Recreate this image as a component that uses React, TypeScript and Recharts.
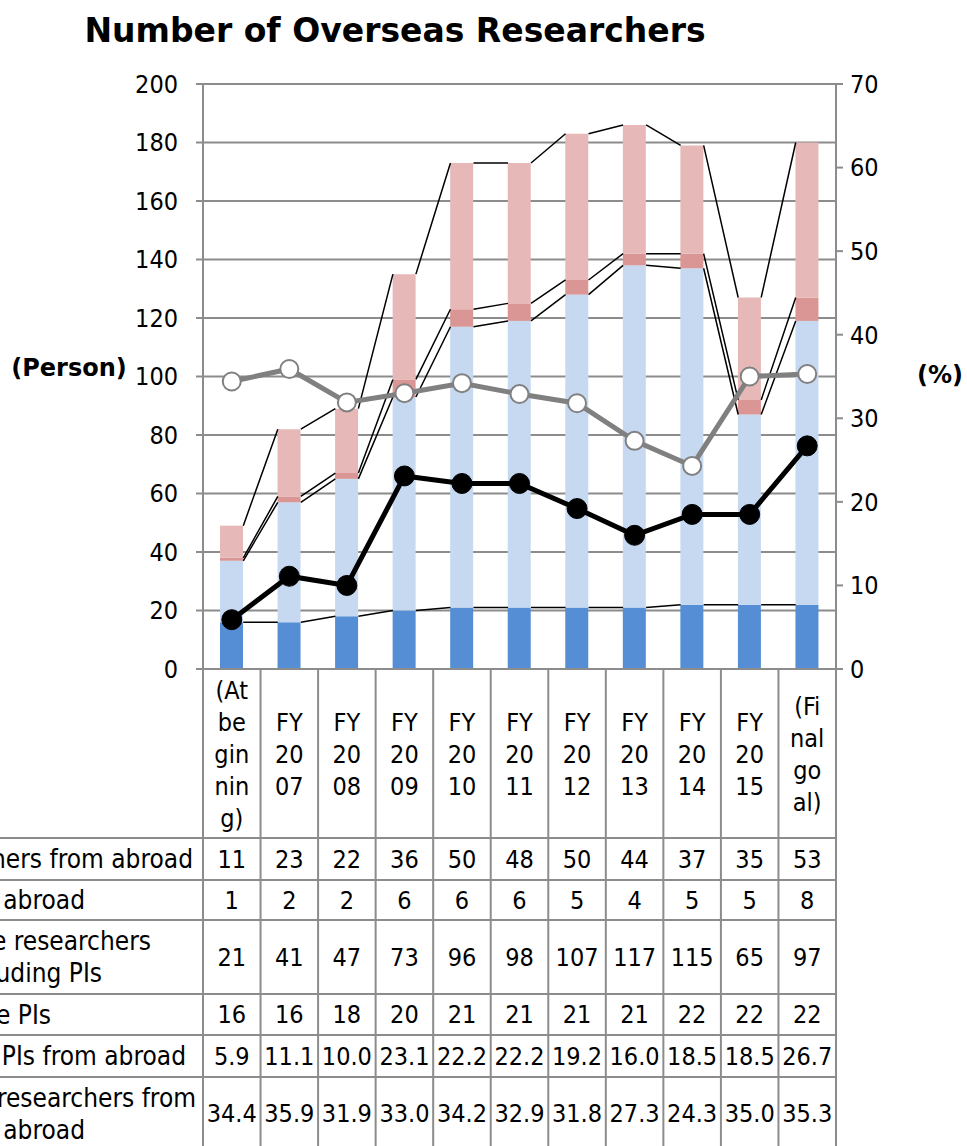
import React from "react";
import { ComposedChart, Bar, Line, XAxis, YAxis, CartesianGrid } from "recharts";

const FONT = '"DejaVu Sans Condensed", "DejaVu Sans", sans-serif';
const BOLD_FONT = '"DejaVu Sans", sans-serif';

const categories = [
  "(At beginning)", "FY2007", "FY2008", "FY2009", "FY2010", "FY2011",
  "FY2012", "FY2013", "FY2014", "FY2015", "(Final goal)",
];
const categoryLines = [
  ["(At", "be", "gin", "nin", "g)"],
  ["FY", "20", "07"], ["FY", "20", "08"], ["FY", "20", "09"], ["FY", "20", "10"],
  ["FY", "20", "11"], ["FY", "20", "12"], ["FY", "20", "13"], ["FY", "20", "14"],
  ["FY", "20", "15"],
  ["(Fi", "nal", "go", "al)"],
];

const researchersAbroad = [11, 23, 22, 36, 50, 48, 50, 44, 37, 35, 53];
const pisAbroad = [1, 2, 2, 6, 6, 6, 5, 4, 5, 5, 8];
const japaneseResearchers = [21, 41, 47, 73, 96, 98, 107, 117, 115, 65, 97];
const japanesePIs = [16, 16, 18, 20, 21, 21, 21, 21, 22, 22, 22];
const pctPIsAbroad = [5.9, 11.1, 10.0, 23.1, 22.2, 22.2, 19.2, 16.0, 18.5, 18.5, 26.7];
const pctResearchersAbroad = [34.4, 35.9, 31.9, 33.0, 34.2, 32.9, 31.8, 27.3, 24.3, 35.0, 35.3];

const leftTicks = [0, 20, 40, 60, 80, 100, 120, 140, 160, 180, 200];
const rightTicks = [0, 10, 20, 30, 40, 50, 60, 70];

// table rows below the plot (label lines, right end of each label line, values)
const tableRows = [
  { label: ["Researchers from abroad"], ends: [193], values: researchersAbroad.map(String) },
  { label: ["PIs from abroad"], ends: [85], values: pisAbroad.map(String) },
  { label: ["Japanese researchers", "excluding PIs"], ends: [151, 102], values: japaneseResearchers.map(String) },
  { label: ["Japanese PIs"], ends: [51], values: japanesePIs.map(String) },
  { label: ["Ratio of PIs from abroad"], ends: [186], values: pctPIsAbroad.map((v) => v.toFixed(1)) },
  { label: ["Ratio of researchers from", "abroad"], ends: [196, 85], values: pctResearchersAbroad.map((v) => v.toFixed(1)) },
];

// layout
const W = 967;
const H = 1146;
const PLOT_LEFT = 203;
const PLOT_RIGHT = 836;
const PLOT_TOP = 84;
const AXIS_Y = 669;
const STEP = (PLOT_RIGHT - PLOT_LEFT) / categories.length;
const HEADER_MID = 754;
const LINE_H = 32;
const ROW_EDGES = [838, 880, 920, 994, 1035, 1077, 1150];
const GRID = "#8c8c8c";
const HALF_BAR = 0.2;

const data = categories.map((name, i) => ({
  name,
  jpPI: japanesePIs[i],
  jpRes: japaneseResearchers[i],
  piAbroad: pisAbroad[i],
  resAbroad: researchersAbroad[i],
  pctPI: pctPIsAbroad[i],
  pctRes: pctResearchersAbroad[i],
}));

// cumulative stack tops for the series lines between bars
const cumulative = (parts: number[][]) =>
  categories.map((_, i) => parts.reduce((s, p) => s + p[i], 0));
const stackLevels = [
  cumulative([japanesePIs]),
  cumulative([japanesePIs, japaneseResearchers]),
  cumulative([japanesePIs, japaneseResearchers, pisAbroad]),
  cumulative([japanesePIs, japaneseResearchers, pisAbroad, researchersAbroad]),
];

function seriesLinePoints(level: number[]) {
  const pts: { x: number; y: number | null }[] = [];
  for (let i = 0; i < level.length - 1; i++) {
    pts.push({ x: i + 0.5 + HALF_BAR, y: level[i] });
    pts.push({ x: i + 1.5 - HALF_BAR, y: level[i + 1] });
    pts.push({ x: i + 1, y: null });
  }
  return pts;
}

function TableTick(props: any) {
  const { x, index } = props;
  const lines = categoryLines[index];
  const first = HEADER_MID - ((lines.length - 1) * LINE_H) / 2;
  const last = index === categories.length - 1;
  return (
    <g>
      <line x1={x - STEP / 2} x2={x - STEP / 2} y1={AXIS_Y} y2={H} stroke={GRID} strokeWidth={2} />
      {last && <line x1={x + STEP / 2} x2={x + STEP / 2} y1={AXIS_Y} y2={H} stroke={GRID} strokeWidth={2} />}
      <text x={x} textAnchor="middle" fontFamily={FONT} fontSize={25} fill="#000">
        {lines.map((l, k) => (
          <tspan key={k} x={x} y={first + k * LINE_H} dominantBaseline="central">{l}</tspan>
        ))}
      </text>
      {tableRows.map((row, r) => (
        <text
          key={r}
          x={x}
          y={(ROW_EDGES[r] + ROW_EDGES[r + 1]) / 2}
          textAnchor="middle"
          dominantBaseline="central"
          fontFamily={FONT}
          fontSize={25}
          fill="#000"
        >
          {row.values[index]}
        </text>
      ))}
    </g>
  );
}

export default function App() {
  const tickStyle = { fill: "#000", fontSize: 25, fontFamily: FONT };
  return (
    <div style={{ position: "absolute", left: 0, top: 0, width: W, height: H, background: "#fff", overflow: "hidden" }}>
      <ComposedChart width={W} height={H} data={data} margin={{ top: PLOT_TOP, right: 0, bottom: 0, left: 0 }}>
        <CartesianGrid xAxisId="cat" yAxisId="left" vertical={false} stroke={GRID} strokeWidth={2} />
        <XAxis
          xAxisId="cat"
          dataKey="name"
          height={H - AXIS_Y}
          interval={0}
          tickLine={false}
          axisLine={{ stroke: GRID, strokeWidth: 2 }}
          tick={(p: any) => <TableTick {...p} />}
        />
        <XAxis xAxisId="num" dataKey="x" type="number" domain={[0, categories.length]} allowDataOverflow hide />
        <YAxis
          yAxisId="left"
          width={PLOT_LEFT}
          domain={[0, 200]}
          ticks={leftTicks}
          interval={0}
          tickSize={7}
          tickMargin={18}
          tick={tickStyle}
          axisLine={{ stroke: GRID, strokeWidth: 2 }}
          tickLine={{ stroke: GRID, strokeWidth: 2 }}
        />
        <YAxis
          yAxisId="right"
          orientation="right"
          width={W - PLOT_RIGHT}
          domain={[0, 70]}
          ticks={rightTicks}
          interval={0}
          tickSize={7}
          tickMargin={7}
          tick={tickStyle}
          axisLine={{ stroke: GRID, strokeWidth: 2 }}
          tickLine={{ stroke: GRID, strokeWidth: 2 }}
        />
        <Bar xAxisId="cat" yAxisId="left" dataKey="jpPI" stackId="a" fill="#558ED5" barSize={23} isAnimationActive={false} />
        <Bar xAxisId="cat" yAxisId="left" dataKey="jpRes" stackId="a" fill="#C6D9F1" barSize={23} isAnimationActive={false} />
        <Bar xAxisId="cat" yAxisId="left" dataKey="piAbroad" stackId="a" fill="#D99694" barSize={23} isAnimationActive={false} />
        <Bar xAxisId="cat" yAxisId="left" dataKey="resAbroad" stackId="a" fill="#E6B9B8" barSize={23} isAnimationActive={false} />
        {stackLevels.map((level, k) => (
          <Line
            key={k}
            xAxisId="num"
            yAxisId="left"
            data={seriesLinePoints(level)}
            dataKey="y"
            type="linear"
            stroke="#000"
            strokeWidth={1.5}
            dot={false}
            activeDot={false}
            connectNulls={false}
            isAnimationActive={false}
          />
        ))}
        <Line
          xAxisId="cat"
          yAxisId="right"
          dataKey="pctPI"
          type="linear"
          stroke="#000"
          strokeWidth={5}
          dot={{ r: 10, fill: "#000", stroke: "#000", strokeWidth: 1 }}
          activeDot={false}
          isAnimationActive={false}
        />
        <Line
          xAxisId="cat"
          yAxisId="right"
          dataKey="pctRes"
          type="linear"
          stroke="#808080"
          strokeWidth={5}
          dot={{ r: 9, fill: "#fff", stroke: "#808080", strokeWidth: 2 }}
          activeDot={false}
          isAnimationActive={false}
        />
      </ComposedChart>
      <svg width={W} height={H} style={{ position: "absolute", left: 0, top: 0, pointerEvents: "none" }}>
        <text x={395} y={42} textAnchor="middle" fontFamily={BOLD_FONT} fontWeight="bold" fontSize={33} fill="#000">
          Number of Overseas Researchers
        </text>
        <text x={69} y={376} textAnchor="middle" fontFamily={BOLD_FONT} fontWeight="bold" fontSize={24} fill="#000">
          (Person)
        </text>
        <text x={940} y={383} textAnchor="middle" fontFamily={BOLD_FONT} fontWeight="bold" fontSize={24} fill="#000">
          (%)
        </text>
        {ROW_EDGES.slice(0, -1).map((y, k) => (
          <line key={k} x1={0} x2={PLOT_RIGHT} y1={y} y2={y} stroke={GRID} strokeWidth={2} />
        ))}
        {tableRows.map((row, r) => {
          const mid = (ROW_EDGES[r] + ROW_EDGES[r + 1]) / 2;
          const top = mid - ((row.label.length - 1) * LINE_H) / 2;
          return row.label.map((l, k) => (
            <text
              key={`${r}-${k}`}
              x={row.ends[k]}
              y={top + k * LINE_H}
              textAnchor="end"
              dominantBaseline="central"
              fontFamily={FONT}
              fontSize={26}
              fill="#000"
            >
              {l}
            </text>
          ));
        })}
      </svg>
    </div>
  );
}
